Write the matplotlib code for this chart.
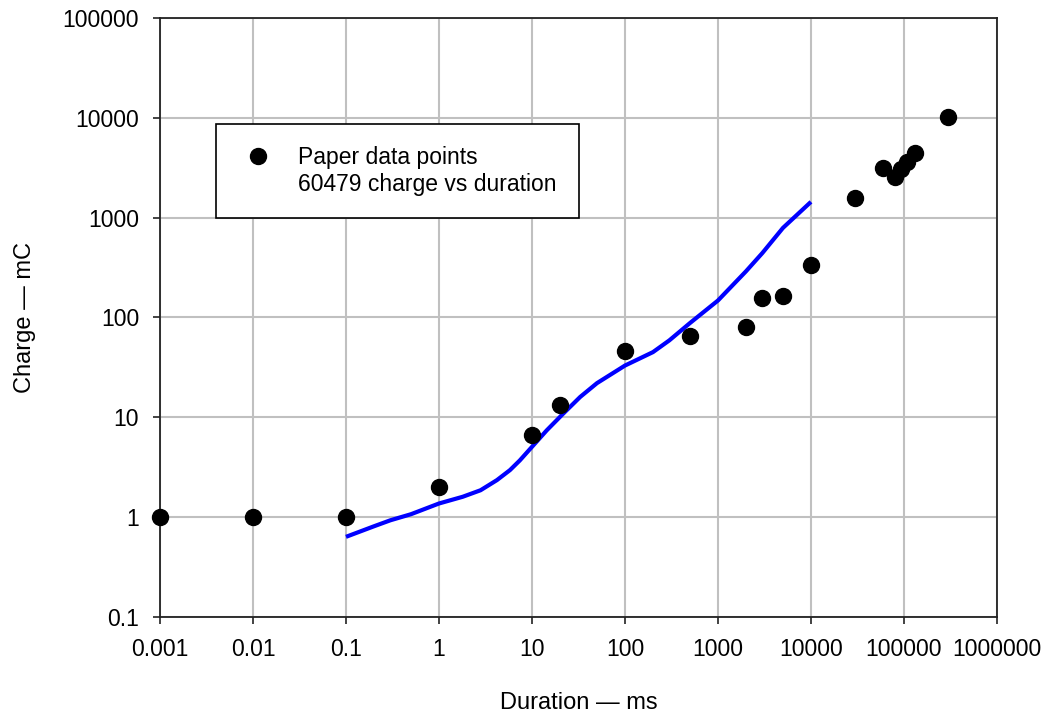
import matplotlib
matplotlib.use("Agg")
import matplotlib.pyplot as plt
from matplotlib.lines import Line2D

plt.rcParams["font.family"] = ["Liberation Sans", "DejaVu Sans"]

# Pontos do artigo (duração em ms, carga em mC)
duracao_pontos = [0.001, 0.01, 0.1, 1, 10, 20, 100, 500, 2000, 3000, 5000, 10000,
                  30000, 60000, 80000, 93000, 107000, 133000, 300000]
carga_pontos = [1, 1, 1, 2.0, 6.7, 13.3, 46, 66, 80, 156, 165, 335,
                1590, 3140, 2570, 3080, 3630, 4400, 10200]

# Curva 60479
duracao_curva = [0.1, 0.2, 0.3, 0.5, 1, 1.8, 2.8, 4.2, 5.8, 7.4, 10, 14.4, 21.7,
                 33, 50, 100, 200, 300, 500, 1000, 2000, 3000, 5000, 10000]
carga_curva = [0.635, 0.81, 0.93, 1.07, 1.37, 1.6, 1.86, 2.35, 2.96, 3.7, 5.06,
               7.4, 10.9, 16, 22, 33, 45, 59, 88, 148, 290, 442, 790, 1440]

xticks = [0.001, 0.01, 0.1, 1, 10, 100, 1000, 10000, 100000, 1000000]
xlabels = ["0.001", "0.01", "0.1", "1", "10", "100", "1000", "10000", "100000", "1000000"]
yticks = [0.1, 1, 10, 100, 1000, 10000, 100000]
ylabels = ["0.1", "1", "10", "100", "1000", "10000", "100000"]

fig = plt.figure(figsize=(10.47, 7.15), dpi=100)
ax = fig.add_axes([0.1528, 0.1371, 0.7994, 0.8377])

ax.plot(duracao_curva, carga_curva, color="#0000ff", lw=3, zorder=3,
        solid_joinstyle="round", solid_capstyle="butt")
ax.plot(duracao_pontos, carga_pontos, "o", color="black", ms=11.5, zorder=4, clip_on=False)

ax.set_xscale("log")
ax.set_yscale("log")
ax.set_xlim(0.001, 1000000)
ax.set_ylim(0.1, 100000)
ax.set_xticks(xticks)
ax.set_xticklabels(xlabels)
ax.set_yticks(yticks)
ax.set_yticklabels(ylabels)
ax.minorticks_off()
ax.tick_params(labelsize=16.5, length=5, width=1.2, direction="out", pad=10,
               color="#222222")

ax.grid(True, color="#c0c0c0", lw=1.5)
ax.set_axisbelow(True)
for lado in ["top", "right", "left", "bottom"]:
    ax.spines[lado].set_linewidth(1.3)
    ax.spines[lado].set_color("#222222")

ax.set_xlabel("Duration \u2014 ms", fontsize=17)
ax.set_ylabel("Charge \u2014 mC", fontsize=17)
ax.xaxis.set_label_coords(0.5, -0.125)
ax.yaxis.set_label_coords(-0.148, 0.5)

handles = [Line2D([], [], ls="none", marker="o", color="black", ms=11.5),
           Line2D([], [], ls="none")]
leg = ax.legend(handles, ["Paper data points", "60479 charge vs duration"],
                loc="upper left", bbox_to_anchor=(0.0669, 0.823), borderaxespad=0,
                fontsize=16.5, frameon=True, fancybox=False, framealpha=1,
                edgecolor="black", handlelength=1.75, handletextpad=0.9,
                borderpad=0.95, labelspacing=0.2)
leg.get_frame().set_linewidth(1.2)

fig.savefig("out.png", dpi=100)
